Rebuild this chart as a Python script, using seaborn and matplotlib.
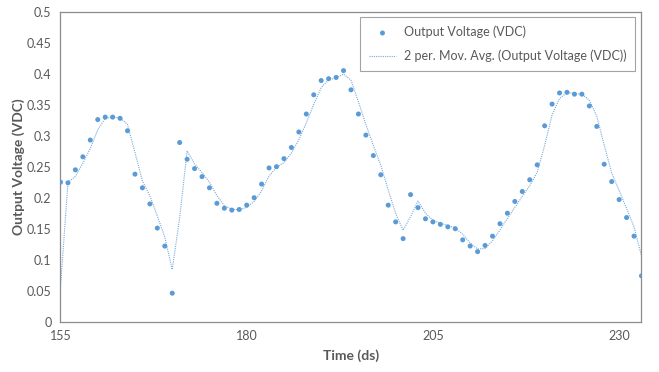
import matplotlib
matplotlib.use("Agg")
import matplotlib.pyplot as plt
import pandas as pd
import seaborn as sns

# time in deciseconds; 154 is a leading reading outside the visible range,
# only used by the moving average (line starts low at 155)
time_ds = list(range(154, 234))
voltage = [
    -0.113,
    0.225, 0.224, 0.245, 0.266, 0.293, 0.326, 0.330, 0.330, 0.328, 0.308,
    0.238, 0.216, 0.190, 0.151, 0.122, 0.046, 0.289, 0.262, 0.247, 0.234,
    0.216, 0.191, 0.183, 0.180, 0.181, 0.188, 0.200, 0.222, 0.248, 0.250,
    0.263, 0.281, 0.306, 0.335, 0.366, 0.389, 0.392, 0.394, 0.405, 0.374,
    0.335, 0.301, 0.268, 0.237, 0.188, 0.161, 0.134, 0.205, 0.184, 0.166,
    0.161, 0.157, 0.153, 0.150, 0.132, 0.122, 0.113, 0.123, 0.138, 0.158,
    0.175, 0.194, 0.210, 0.229, 0.253, 0.316, 0.351, 0.369, 0.370, 0.367,
    0.367, 0.348, 0.315, 0.254, 0.226, 0.197, 0.168, 0.138, 0.074,
]
x_ticks = [155, 180, 205, 230]
y_ticks = [0, 0.05, 0.1, 0.15, 0.2, 0.25, 0.3, 0.35, 0.4, 0.45, 0.5]

df = pd.DataFrame({"time": time_ds, "volt": voltage})
df["ma"] = df["volt"].rolling(2).mean()

sns.set_style("white")
plt.rcParams["font.family"] = ["Lato", "DejaVu Sans"]

blue = "#5B9BD5"
grey = "#595959"

fig = plt.figure(figsize=(6.59, 3.72), dpi=100)
ax = fig.add_axes([0.0918, 0.1352, 0.8816, 0.8333])

sns.scatterplot(data=df, x="time", y="volt", ax=ax, color=blue, s=13,
                edgecolor="none", label="Output Voltage (VDC)", zorder=3)
sns.lineplot(data=df.dropna(), x="time", y="ma", ax=ax, color=blue,
             linewidth=0.8, linestyle=(0, (1, 1)), alpha=0.85,
             label="2 per. Mov. Avg. (Output Voltage (VDC))")

ax.set_xlim(155, 233)
ax.set_ylim(0, 0.5)
ax.set_xticks(x_ticks)
ax.set_yticks(y_ticks)
ax.set_yticklabels([f"{v:g}" for v in y_ticks])
ax.tick_params(length=0, labelsize=9, colors=grey)
ax.tick_params(axis="y", pad=6.5)
ax.tick_params(axis="x", pad=6)
for sp in ax.spines.values():
    sp.set_color("#8c8c8c")
    sp.set_linewidth(0.9)

ax.set_xlabel("Time (ds)", fontsize=10, fontweight="bold", color=grey, labelpad=5)
ax.set_ylabel("Output Voltage (VDC)", fontsize=10, fontweight="bold", color=grey)
ax.yaxis.set_label_coords(-0.061, 0.5)

leg = ax.legend(loc="upper right", bbox_to_anchor=(0.989, 0.983), borderaxespad=0,
                frameon=True, fancybox=False, fontsize=9, handlelength=2.2,
                labelspacing=0.9, borderpad=0.7, handletextpad=0.6)
leg.get_frame().set_edgecolor("#8c8c8c")
leg.get_frame().set_linewidth(0.8)
for t in leg.get_texts():
    t.set_color(grey)

fig.savefig("out.png", dpi=100)
